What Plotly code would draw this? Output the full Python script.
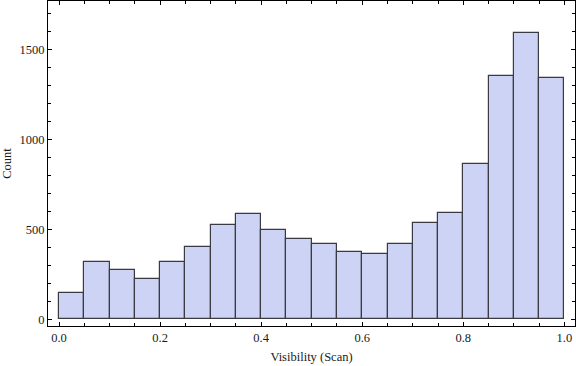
import plotly.graph_objects as go

bin_edges = [round(0.05 * i, 2) for i in range(21)]
counts = [144, 317, 272, 222, 317, 400, 522, 583, 494, 444,
          417, 372, 361, 417, 533, 589, 861, 1350, 1589, 1339]
x_ticks = [0.0, 0.2, 0.4, 0.6, 0.8, 1.0]
x_ticklabels = ["0.0", "0.2", "0.4", "0.6", "0.8", "1.0"]
y_ticks = [0, 500, 1000, 1500]
y_ticklabels = ["0", "500", "1000", "1500"]

centers = [(a + b) / 2 for a, b in zip(bin_edges[:-1], bin_edges[1:])]
widths = [b - a for a, b in zip(bin_edges[:-1], bin_edges[1:])]

font = dict(family="Liberation Serif, Times New Roman, serif", size=12.5, color="#1a1a1a")

fig = go.Figure(go.Bar(
    x=centers, y=counts, width=widths,
    marker=dict(color="#CCD3F5", line=dict(color="#3a3a42", width=1.2)),
))

axis_common = dict(
    showline=True, linecolor="black", linewidth=1.2, mirror="allticks",
    ticks="inside", ticklen=4, tickcolor="black", tickwidth=1,
    showgrid=False, zeroline=False, tickfont=font,
)

fig.update_xaxes(
    range=[-0.0218, 1.021], tickvals=x_ticks, ticktext=x_ticklabels,
    minor=dict(dtick=0.05, tick0=0, ticks="inside", ticklen=2.5, tickcolor="black", showgrid=False),
    title=dict(text="Visibility (Scan)", font=font, standoff=8),
    **axis_common,
)
fig.update_yaxes(
    range=[-37, 1768], tickvals=y_ticks, ticktext=y_ticklabels,
    minor=dict(dtick=100, tick0=0, ticks="inside", ticklen=2.5, tickcolor="black", showgrid=False),
    title=dict(text="Count", font=font, standoff=6),
    **axis_common,
)

fig.update_layout(
    width=576, height=366,
    margin=dict(l=48, r=1, t=1, b=40),
    plot_bgcolor="white", paper_bgcolor="white",
    showlegend=False, bargap=0,
    font=font,
)

fig.write_html(
    "out.html",
    config={"displayModeBar": False},
    post_script="document.body.style.margin='0';document.body.style.overflow='hidden';",
)
